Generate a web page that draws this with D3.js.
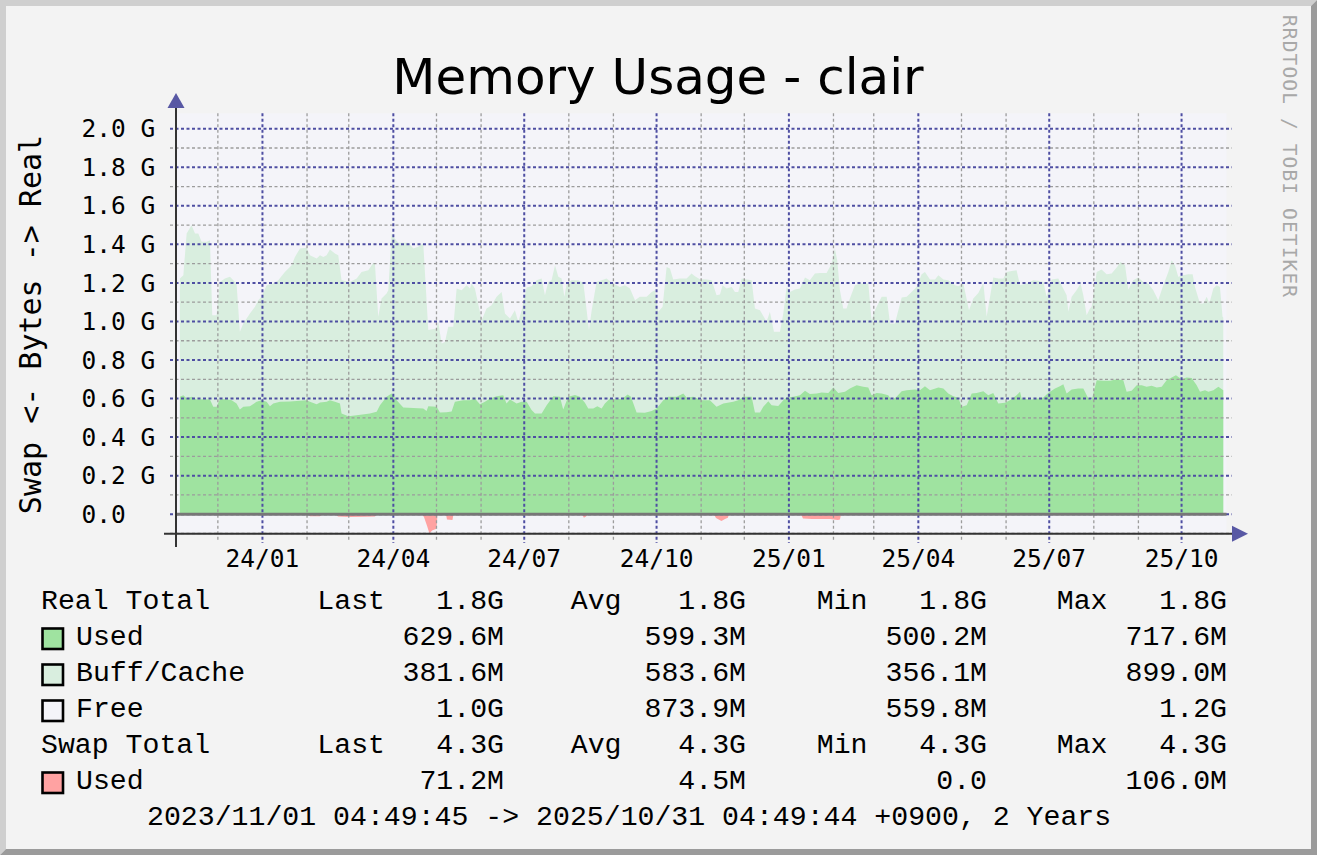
<!DOCTYPE html>
<html><head><meta charset="utf-8">
<script src="https://cdn.jsdelivr.net/npm/d3@7"></script>
<style>html,body{margin:0;padding:0;background:#f3f3f3;}svg{display:block}</style>
</head><body>
<svg id="chart" width="1317" height="855"></svg>
<script>
// ---------- data ----------
const chartTitle = "Memory Usage - clair";
const yAxisLabel = "Swap <- Bytes -> Real";
const watermark = "RRDTOOL / TOBI OETIKER";
const startTime = [2023, 10, 1, 4, 49, 45];   // local (+0900)
const endTime   = [2025, 9, 31, 4, 49, 44];
const yTickValues = [0, 0.2, 0.4, 0.6, 0.8, 1.0, 1.2, 1.4, 1.6, 1.8, 2.0];
const yTickLabels = ["0.0", "0.2 G", "0.4 G", "0.6 G", "0.8 G", "1.0 G", "1.2 G", "1.4 G", "1.6 G", "1.8 G", "2.0 G"];
const yMinorValues = [-0.1, 0.1, 0.3, 0.5, 0.7, 0.9, 1.1, 1.3, 1.5, 1.7, 1.9];
const yDomainLimits = [-0.102, 2.08];
const xTickFormat = "%y/%m";

// days since start -> value in G
const totalDay = [3.4,5.8,8.1,11.5,13.9,16.2,18.5,22.0,24.3,25.9,28.9,31.2,34.7,38.2,41.7,42.8,45.1,47.5,52.1,55.6,57.9,60.2,63.7,68.3,71.8,76.4,81.1,83.4,86.9,91.5,93.8,98.5,100.8,103.1,105.4,107.7,111.2,113.5,115.8,121.6,126.3,129.7,134.4,137.9,139.0,141.3,143.6,147.1,148.3,150.6,151.8,155.2,162.2,165.7,169.1,172.6,176.1,181.9,183.0,185.4,187.7,190.0,193.5,195.8,199.3,202.7,205.1,206.2,208.5,213.2,216.6,220.1,223.6,227.1,229.4,232.9,236.3,238.7,241.0,244.5,247.9,251.4,254.9,257.2,259.5,261.8,264.2,266.5,268.8,270.7,272.3,275.7,280.4,283.9,286.2,287.8,289.7,293.1,296.6,300.0,304.7,309.3,312.8,316.3,319.8,323.2,327.9,331.4,333.7,336.0,339.0,341.8,344.1,346.4,351.0,355.7,359.1,361.5,364.9,369.6,373.1,376.5,378.9,380.7,383.5,387.0,389.3,391.6,394.0,397.4,400.9,403.2,406.7,411.3,413.6,416.4,420.6,422.9,425.2,427.5,431.0,434.5,438.0,441.4,444.9,448.4,453.0,456.5,458.8,460.4,462.3,464.6,466.9,469.2,472.7,476.2,482.0,484.3,486.6,491.3,494.8,497.1,500.5,502.9,505.2,508.7,512.1,515.6,519.1,521.4,524.9,528.4,530.7,534.2,537.6,542.3,544.6,548.1,552.0,555.0,558.5,562.0,564.3,568.9,572.4,575.9,578.2,581.7,585.1,587.5,592.1,596.7,600.2,603.7,606.0,609.5,614.1,616.4,619.9,621.1,623.4,626.8,629.6,631.5,633.8,636.1,637.3,640.8,644.2,647.7,651.2,654.7,657.4,660.5,662.8,666.2,669.7,673.2,676.7,680.1,683.6,687.1,690.6,692.9,695.2,697.5,701.0,704.5,707.5,709.1,712.6,714.9,717.3,719.1,721.9,724.2,726.5,728.3,728.8];
const usedPlusCacheG = [1.223,1.240,1.456,1.499,1.456,1.456,1.413,1.413,1.421,1.032,1.032,1.205,1.223,1.232,1.205,1.197,0.946,0.989,1.041,1.076,1.110,1.128,1.188,1.197,1.214,1.257,1.292,1.335,1.378,1.382,1.344,1.326,1.344,1.335,1.344,1.373,1.352,1.344,1.214,1.205,1.223,1.257,1.266,1.304,1.300,1.024,1.119,1.145,1.162,1.456,1.439,1.408,1.408,1.378,1.387,1.404,0.955,0.963,0.998,0.885,0.894,0.972,0.972,1.171,1.162,1.188,1.171,1.197,1.171,1.006,1.067,1.084,1.128,1.153,1.041,1.015,1.058,0.998,1.058,1.176,1.183,1.214,1.223,1.136,1.205,1.214,1.292,1.232,1.223,1.128,1.197,1.214,1.214,1.200,1.058,0.955,1.058,1.205,1.214,1.223,1.197,1.179,1.188,1.171,1.110,1.128,1.128,1.153,1.162,1.050,1.076,1.283,1.275,1.217,1.223,1.223,1.249,1.235,1.219,1.217,1.214,1.136,1.140,1.188,1.171,1.179,1.153,1.153,1.223,1.217,1.214,1.067,1.058,0.998,1.050,0.946,0.946,1.041,1.179,1.153,1.166,1.171,1.228,1.214,1.249,1.252,1.252,1.300,1.378,1.318,1.162,1.067,1.067,1.119,1.188,1.197,1.197,1.006,1.058,1.128,1.128,0.989,0.989,1.058,1.124,1.128,1.153,1.179,1.245,1.257,1.217,1.217,1.240,1.217,1.214,1.188,1.183,1.197,1.058,1.119,1.148,1.200,1.024,1.228,1.223,1.223,1.257,1.262,1.266,1.188,1.197,1.214,1.211,1.205,1.128,1.217,1.223,1.188,1.136,1.050,1.128,1.162,1.197,1.136,1.032,1.067,1.076,1.257,1.269,1.245,1.249,1.280,1.309,1.292,1.166,1.214,1.228,1.205,1.197,1.162,1.110,1.188,1.257,1.318,1.292,1.232,1.240,1.245,1.245,1.179,1.093,1.093,1.128,1.093,1.171,1.188,1.179,1.024,1.020];

const usedDay = [3.4,5.8,8.1,11.5,15.0,19.7,24.3,26.6,28.9,31.2,35.9,39.4,42.8,45.1,47.5,52.1,56.7,60.2,63.7,66.0,68.3,73.0,79.9,86.9,91.5,93.8,98.5,100.8,105.4,107.7,111.2,114.7,115.8,120.5,126.3,135.5,140.2,142.5,147.1,150.6,154.1,158.7,172.6,174.9,176.1,181.9,184.2,188.8,192.3,194.6,200.4,205.1,208.5,212.0,215.5,219.0,223.6,228.2,230.5,232.9,237.5,241.0,244.5,247.9,250.3,254.9,258.4,263.0,267.6,269.9,273.4,278.1,281.5,285.0,287.3,290.8,293.6,296.6,298.9,302.4,306.6,311.2,314.7,317.0,320.9,326.7,331.4,334.8,339.5,342.9,348.8,353.4,355.7,360.3,366.1,371.9,376.5,381.2,388.1,391.6,395.1,400.9,403.2,406.7,409.0,412.5,414.8,419.4,422.9,425.2,429.9,434.5,438.0,441.4,446.1,449.6,454.2,457.7,461.1,465.8,469.2,473.9,478.5,482.0,484.3,487.8,491.3,495.9,498.2,501.7,505.2,508.7,514.4,517.9,521.4,524.9,530.7,534.2,537.6,541.1,544.6,546.9,550.4,553.9,557.3,562.0,565.4,568.9,572.4,577.0,580.5,585.1,587.5,588.6,592.1,595.6,600.2,603.7,607.1,611.8,615.2,617.6,619.9,623.4,628.0,631.5,635.0,637.3,640.8,645.4,650.1,654.7,659.3,661.6,665.1,668.6,672.1,675.5,679.0,682.5,686.0,689.4,692.9,695.9,699.8,703.3,706.8,710.3,712.6,716.1,718.5,721.9,725.4,728.8];
const usedG = [0.609,0.617,0.600,0.609,0.595,0.597,0.595,0.557,0.557,0.597,0.597,0.591,0.574,0.543,0.557,0.560,0.583,0.591,0.583,0.560,0.574,0.583,0.585,0.588,0.591,0.583,0.571,0.579,0.583,0.591,0.583,0.574,0.522,0.508,0.514,0.522,0.531,0.565,0.609,0.626,0.591,0.553,0.548,0.536,0.560,0.557,0.527,0.529,0.533,0.583,0.591,0.591,0.600,0.571,0.583,0.600,0.612,0.617,0.574,0.595,0.574,0.583,0.583,0.540,0.522,0.522,0.565,0.612,0.609,0.543,0.609,0.619,0.609,0.578,0.548,0.548,0.560,0.548,0.574,0.600,0.595,0.600,0.621,0.609,0.527,0.526,0.536,0.548,0.591,0.609,0.609,0.626,0.605,0.609,0.591,0.591,0.557,0.574,0.583,0.591,0.609,0.609,0.527,0.527,0.557,0.586,0.565,0.562,0.591,0.605,0.609,0.617,0.640,0.623,0.626,0.631,0.629,0.657,0.629,0.635,0.652,0.669,0.661,0.657,0.617,0.629,0.626,0.617,0.591,0.609,0.638,0.643,0.647,0.643,0.664,0.643,0.657,0.652,0.626,0.612,0.604,0.557,0.565,0.626,0.629,0.638,0.617,0.629,0.574,0.578,0.591,0.617,0.635,0.600,0.597,0.595,0.600,0.605,0.629,0.652,0.664,0.674,0.626,0.647,0.652,0.652,0.600,0.591,0.695,0.692,0.692,0.700,0.695,0.635,0.640,0.669,0.669,0.661,0.666,0.657,0.661,0.695,0.709,0.721,0.700,0.709,0.707,0.669,0.635,0.643,0.635,0.643,0.661,0.643];

const swapDay = [3.4,92.5,93.9,100.8,102.2,111.9,113.3,121.7,132.1,139.0,140.4,171.7,173.1,175.2,176.9,178.7,181.8,182.5,188.4,189.1,192.9,193.6,283.0,284.3,285.7,287.1,374.7,376.1,379.9,382.4,384.4,385.1,435.2,436.6,442.9,455.4,460.9,462.3,463.0,728.8];
const swapG   = [0,0,0.010,0.010,0,0,0.012,0.014,0.013,0.012,0,0,0.015,0.060,0.100,0.085,0.075,0,0,0.028,0.030,0,0,0.018,0.012,0,0,0.020,0.035,0.025,0.018,0,0,0.022,0.025,0.025,0.030,0.028,0,0];

// legend
const realHeader = {name: "Real Total", last: "1.8G", avg: "1.8G", min: "1.8G", max: "1.8G"};
const swapHeader = {name: "Swap Total", last: "4.3G", avg: "4.3G", min: "4.3G", max: "4.3G"};
const realNames = ["Used", "Buff/Cache", "Free"];
const realLast = ["629.6M", "381.6M", "1.0G"];
const realAvg  = ["599.3M", "583.6M", "873.9M"];
const realMin  = ["500.2M", "356.1M", "559.8M"];
const realMax  = ["717.6M", "899.0M", "1.2G"];
const swapNames = ["Used"];
const swapLast = ["71.2M"];
const swapAvg  = ["4.5M"];
const swapMin  = ["0.0"];
const swapMax  = ["106.0M"];
const periodText = "2023/11/01 04:49:45 -> 2025/10/31 04:49:44 +0900, 2 Years";

// ---------- styles ----------
const C = {
  back: "#f3f3f3", canvas: "#f4f4f9", light: "#cfcfcf", dark: "#9b9b9b",
  used: "#9fe3a0", cache: "#d9eedf", free: "#f4f4f9", swap: "#ffa2a2",
  mgrid: "#4e4ea2", grid: "#9c9c9c", axis: "#333333", arrow: "#5858a4",
  zero: "#777777", font: "#000000", water: "#a8a8a8"
};
const monoAxis = "'DejaVu Sans Mono', monospace";
const monoLegend = "'Liberation Mono', 'Courier New', monospace";

// ---------- drawing ----------
const W = 1317, H = 855;
const svg = d3.select("#chart");
svg.append("rect").attr("width", W).attr("height", H).attr("fill", C.back);
svg.append("polygon").attr("points", `0,0 ${W},0 ${W-6},6 6,6 6,${H-6} 0,${H}`).attr("fill", C.light);
svg.append("polygon").attr("points", `${W},0 ${W},${H} 0,${H} 6,${H-6} ${W-6},${H-6} ${W-6},6`).attr("fill", C.dark);

const start = new Date(...startTime), end = new Date(...endTime);
const toDate = d => new Date(start.getTime() + d * 864e5);
const x = d3.scaleTime().domain([start, end]).range([175, 1225]);
const y = d3.scaleLinear().domain([0, 2]).range([514.2, 128.7]);

const plotL = 176, plotR = 1226.5;
const plotT = y(yDomainLimits[1]), plotB = y(yDomainLimits[0]);

svg.append("rect").attr("x", plotL).attr("y", plotT).attr("width", plotR - plotL).attr("height", plotB - plotT).attr("fill", C.canvas);

const totalData = totalDay.map((d, i) => ({t: toDate(d), v: usedPlusCacheG[i]}));
const usedData = usedDay.map((d, i) => ({t: toDate(d), v: usedG[i]}));
const swapData = swapDay.map((d, i) => ({t: toDate(d), v: -swapG[i]}));

const area = d3.area().x(d => x(d.t)).y0(y(0)).y1(d => y(d.v));
svg.append("path").datum(totalData).attr("d", area).attr("fill", C.cache);
svg.append("path").datum(usedData).attr("d", area).attr("fill", C.used);
svg.append("path").datum(swapData).attr("d", area).attr("fill", C.swap);

// grid
const g = svg.append("g");
const dash = "3,2.5";
yMinorValues.forEach(v => {
  g.append("line").attr("x1", 170).attr("x2", 1232).attr("y1", y(v)).attr("y2", y(v))
    .attr("stroke", C.grid).attr("stroke-width", 1.3).attr("stroke-dasharray", dash);
});
const months = d3.timeMonth.range(d3.timeMonth.ceil(start), end);
months.forEach(m => {
  const major = m.getMonth() % 3 === 0;
  if (major) return;
  g.append("line").attr("x1", x(m)).attr("x2", x(m)).attr("y1", plotT).attr("y2", 540)
    .attr("stroke", C.grid).attr("stroke-width", 1.3).attr("stroke-dasharray", dash);
});
yTickValues.forEach(v => {
  g.append("line").attr("x1", 170).attr("x2", 1232).attr("y1", y(v)).attr("y2", y(v))
    .attr("stroke", C.mgrid).attr("stroke-width", 2).attr("stroke-dasharray", dash);
});
const majors = months.filter(m => m.getMonth() % 3 === 0);
majors.forEach(m => {
  g.append("line").attr("x1", x(m)).attr("x2", x(m)).attr("y1", plotT).attr("y2", 543)
    .attr("stroke", C.mgrid).attr("stroke-width", 2).attr("stroke-dasharray", dash);
});

// zero line
svg.append("line").attr("x1", plotL).attr("x2", plotR).attr("y1", y(0)).attr("y2", y(0))
  .attr("stroke", C.zero).attr("stroke-width", 3);

// axes
svg.append("line").attr("x1", plotL).attr("x2", plotL).attr("y1", 103).attr("y2", 547)
  .attr("stroke", C.axis).attr("stroke-width", 2);
svg.append("line").attr("x1", 164).attr("x2", 1238).attr("y1", plotB).attr("y2", plotB)
  .attr("stroke", C.axis).attr("stroke-width", 2);
svg.append("polygon").attr("points", `${plotL-8.5},108 ${plotL+8.5},108 ${plotL},93`).attr("fill", C.arrow);
svg.append("polygon").attr("points", `1232,${plotB-8} 1232,${plotB+8} 1248,${plotB}`).attr("fill", C.arrow);

// tick labels
yTickValues.forEach((v, i) => {
  svg.append("text").attr("x", 81.5).attr("y", y(v) + 8.6).text(yTickLabels[i])
    .attr("font-family", monoAxis).attr("font-size", 24.5).attr("fill", C.font)
    .attr("xml:space", "preserve");
});
const fmt = d3.timeFormat(xTickFormat);
majors.forEach(m => {
  svg.append("text").attr("x", x(m)).attr("y", 567).attr("text-anchor", "middle").text(fmt(m))
    .attr("font-family", monoAxis).attr("font-size", 24.5).attr("fill", C.font);
});

// title, labels, watermark
svg.append("text").attr("x", 658).attr("y", 94).attr("text-anchor", "middle").text(chartTitle)
  .attr("font-family", "'DejaVu Sans', sans-serif").attr("font-size", 50).attr("fill", C.font);
svg.append("text").attr("transform", "translate(41,324.5) rotate(-90)").attr("text-anchor", "middle")
  .text(yAxisLabel).attr("font-family", monoAxis).attr("font-size", 30).attr("fill", C.font);
svg.append("text").attr("transform", "translate(1283,15) rotate(90)").text(watermark)
  .attr("font-family", monoAxis).attr("font-size", 19.5).attr("fill", C.water)
  .attr("textLength", 282).attr("lengthAdjust", "spacing");

// legend
const lg = svg.append("g").attr("font-family", monoLegend).attr("font-size", 28.2).attr("fill", C.font);
const colsVal = [504, 746, 987, 1227];
const colsHead = [385, 621.5, 867.5, 1107.5];
const headWords = ["Last", "Avg", "Min", "Max"];
function headerRow(h, yy) {
  lg.append("text").attr("x", 41).attr("y", yy).text(h.name);
  const vals = [h.last, h.avg, h.min, h.max];
  headWords.forEach((w, i) => {
    lg.append("text").attr("x", colsHead[i]).attr("y", yy).attr("text-anchor", "end").text(w);
    lg.append("text").attr("x", colsVal[i]).attr("y", yy).attr("text-anchor", "end").text(vals[i]);
  });
}
function seriesRow(name, color, vals, yy) {
  lg.append("rect").attr("x", 42.5).attr("y", yy - 16.5).attr("width", 20.5).attr("height", 20.5)
    .attr("fill", color).attr("stroke", "#000").attr("stroke-width", 2.6);
  lg.append("text").attr("x", 76).attr("y", yy).text(name);
  vals.forEach((v, i) => lg.append("text").attr("x", colsVal[i]).attr("y", yy).attr("text-anchor", "end").text(v));
}
const rowY = [609, 645, 681, 717, 753, 789, 825];
headerRow(realHeader, rowY[0]);
const realColors = [C.used, C.cache, C.free];
realNames.forEach((n, i) => seriesRow(n, realColors[i], [realLast[i], realAvg[i], realMin[i], realMax[i]], rowY[1 + i]));
headerRow(swapHeader, rowY[4]);
swapNames.forEach((n, i) => seriesRow(n, C.swap, [swapLast[i], swapAvg[i], swapMin[i], swapMax[i]], rowY[5 + i]));
lg.append("text").attr("x", 147).attr("y", rowY[6]).text(periodText);
</script>
</body></html>
